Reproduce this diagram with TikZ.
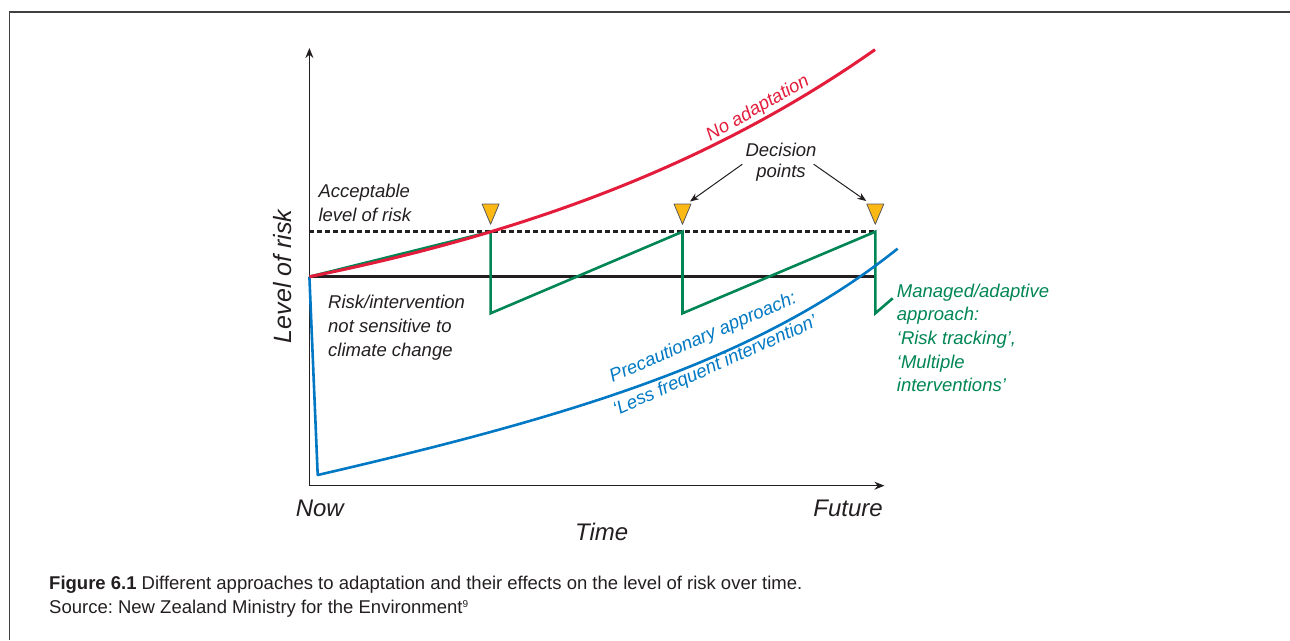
\documentclass[tikz,border=0pt]{standalone}
\usepackage{fontspec}
\setmainfont{Liberation Sans}
\frenchspacing
\usetikzlibrary{arrows.meta, positioning, calc}
\definecolor{riskred}{RGB}{226,28,58}
\definecolor{riskblue}{RGB}{0,120,195}
\definecolor{riskgreen}{RGB}{0,134,84}
\definecolor{dpyellow}{RGB}{253,185,19}
\definecolor{inkgray}{RGB}{35,31,32}
\tikzset{
    frameline/.style={draw=black!75, line width=1.5pt},
    axisline/.style={draw=inkgray, line width=1.4pt},
    riskline/.style={draw=inkgray, line width=3pt},
    acceptable/.style={draw=inkgray, line width=2.5pt, dash pattern=on 5pt off 3pt},
    noadapt/.style={draw=riskred, line width=3pt},
    precaution/.style={draw=riskblue, line width=2.6pt, line join=round},
    managed/.style={draw=riskgreen, line width=2.6pt},
    dpmark/.style={fill=dpyellow, draw=black!65, line width=0.8pt, line join=round},
    decarrow/.style={draw=inkgray, line width=1pt, -{Stealth[length=9pt, width=7pt]}},
    lbl/.style={font=\fontsize{18.5}{24}\selectfont\itshape, text=inkgray, inner sep=0pt},
    axlbl/.style={font=\fontsize{24}{28}\selectfont\itshape, text=inkgray, inner sep=0pt},
    captext/.style={font=\fontsize{18.5}{23}\selectfont, text=inkgray, inner sep=0pt}
}
\begin{document}
\begin{tikzpicture}[x=1pt, y=-1pt]
    \useasboundingbox (0,0) rectangle (1290,640);
    \def \xo {309.4}
    \def \xe {875.3}
    \def \yrisk {276.7}
    \def \yok {231.7}
    \def \ylow {313.3}
    \draw[frameline] (9.3,640) -- (9.3,12) -- (1290,12);
    % axes
    \coordinate (o) at (\xo,485.7);
    \coordinate (ytop) at (\xo,48);
    \coordinate (xend) at (884.4,485.7);
    \draw[axisline, {Stealth[length=10pt,width=8pt]}-{Stealth[length=10pt,width=8pt]}] (ytop) -- (o) -- (xend);
    % risk levels
    \coordinate (r0) at (\xo,\yrisk);
    \coordinate (r1) at (\xe,\yrisk);
    \coordinate (a0) at (\xo,\yok);
    \coordinate (a1) at (\xe,\yok);
    \draw[riskline] (r0) -- (r1);
    \draw[acceptable] (a0) -- (a1);
    % decision points
    \foreach \x [count=\i] in {490.6, 682.5, 875.3}{
        \coordinate (t\i) at (\x,\yok);
        \coordinate (b\i) at (\x,\ylow);
        \coordinate (dp\i) at (\x,204);
        \draw[dpmark] (\x-8.5,204) -- (\x+8.5,204) -- (\x,224.3) -- cycle;
    }
    \coordinate (g0) at (892.7,298.3);
    \coordinate (p0) at (317.7,475);
    \draw[managed] (r0) -- (t1) -- (b1) -- (t2) -- (b2) -- (t3) -- (b3) -- (g0);
    \draw[precaution] (r0) -- (p0) -- plot[domain=0:1, samples=80] ({317.7+580.3*\x}, {475-116.4*\x-5.776*(exp(3*\x)-1)});
    \draw[noadapt] plot[domain=0:1, samples=80] ({\xo+566*\x}, {\yrisk-91.3*(exp(1.25*\x)-1)});
    % labels (base = last line)
    \node[lbl, text=riskred, anchor=base west, rotate=30] (noad) at (710.3,141.7) {No adaptation};
    \node[lbl, text=riskblue, anchor=base west, rotate=23.5] (prec) at (612.5,382.7) {Precautionary approach:};
    \node[lbl, text=riskblue, anchor=base west, rotate=24] (less) at (616.2,416) {‘Less frequent intervention’};
    \node[lbl, anchor=base west, align=left] (accept) at (318.3,221.7) {Acceptable\\level of risk};
    \node[lbl, anchor=base west, align=left] (insens) at (328,356) {Risk/intervention\\not sensitive to\\climate change};
    \node[lbl, text=riskgreen, anchor=base west, align=left, font=\fontsize{18.5}{23.6}\selectfont\itshape] (manag) at (896.7,391.7) {Managed/adaptive\\approach:\\‘Risk tracking’,\\‘Multiple\\interventions’};
    \node[lbl, anchor=base, align=center, font=\fontsize{18.5}{21}\selectfont\itshape] (dec) at (781,177.5) {Decision\\points};
    \draw[decarrow] ([shift={(-3,2)}]dec.west) -- ([shift={(7.5,-2.5)}]dp2);
    \draw[decarrow] ([shift={(-3,2)}]dec.east) -- ([shift={(-9,-3)}]dp3);
    \node[axlbl, font=\fontsize{25}{28}\selectfont\itshape, anchor=base, rotate=90] (ylab) at (291,276.5) {Level of risk};
    \node[axlbl, anchor=base] (now) at (319.8,516.7) {Now};
    \node[axlbl, anchor=base east] (fut) at (883,516.7) {Future};
    \node[axlbl, anchor=base] (time) at (601.7,540) {Time};
    % caption
    \node[captext, anchor=base west] (cap) at (49,589) {\textbf{Figure 6.1} Different approaches to adaptation and their effects on the level of risk over time.};
    \node[captext, anchor=base west] (src) at (49,613) {Source: New Zealand Ministry for the Environment{\fontsize{10}{10}\selectfont\raisebox{6pt}{9}}};
\end{tikzpicture}
\end{document}
